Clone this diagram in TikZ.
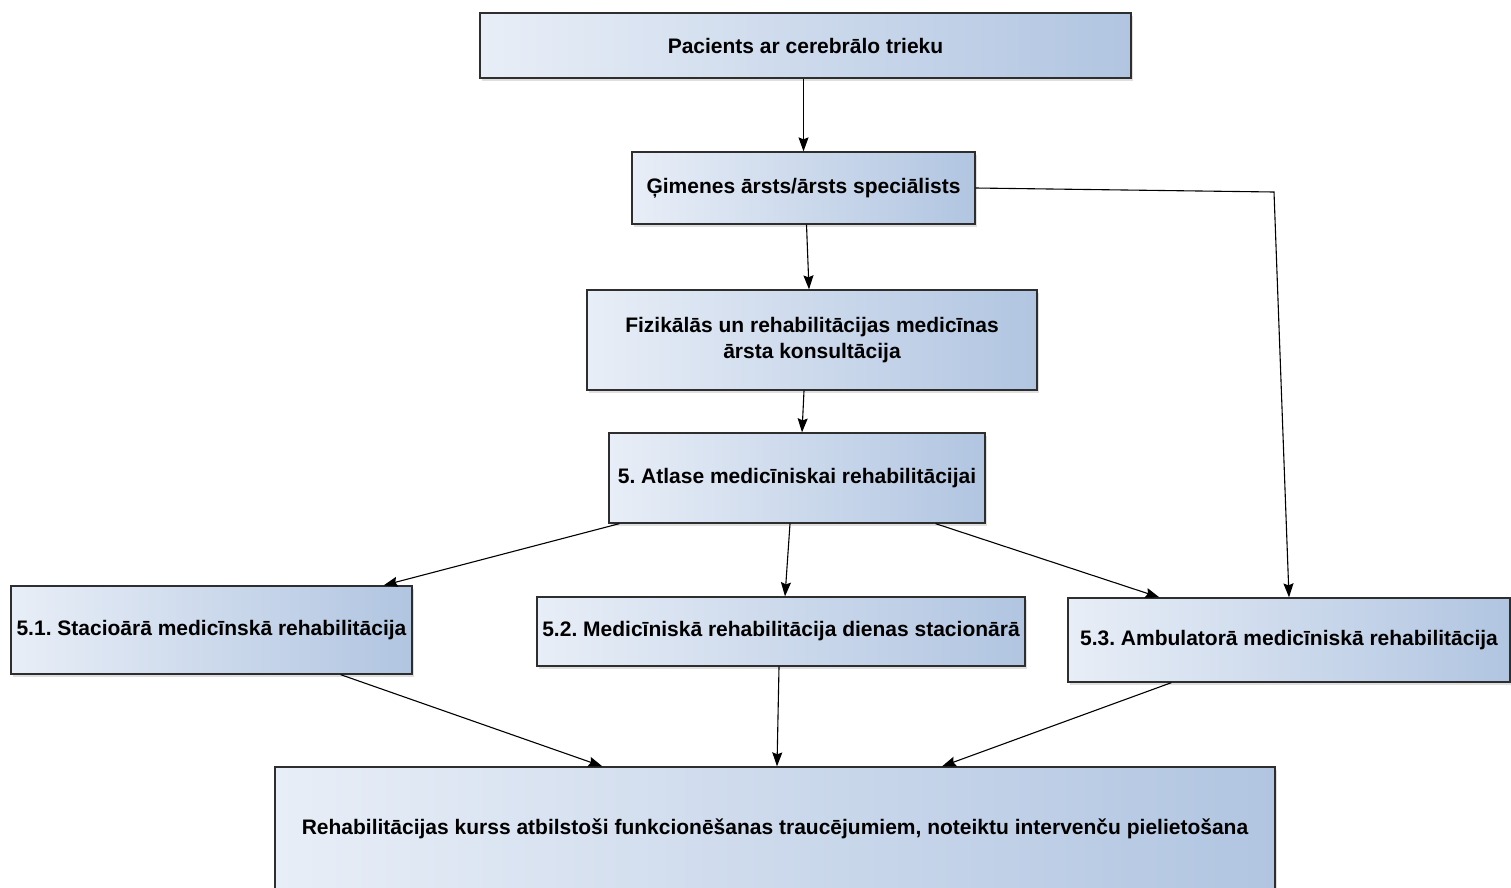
\documentclass[tikz,border=0pt]{standalone}
\usepackage{fontspec}
\setmainfont{Liberation Sans}
\usetikzlibrary{arrows.meta, positioning, calc, shadows}

\definecolor{boxleft}{HTML}{E8EEF7}
\definecolor{boxright}{HTML}{B1C5E1}
\definecolor{boxline}{HTML}{2E2E2E}

\frenchspacing

\begin{document}
\begin{tikzpicture}[
    x=1pt, y=-1pt,
    font=\fontsize{21}{26}\selectfont\bfseries,
    box/.style={draw=boxline, line width=1.3pt, left color=boxleft, right color=boxright, align=center, inner sep=0pt, drop shadow={opacity=0.25, shadow xshift=2pt, shadow yshift=-3pt}},
    arrow/.style={-{Stealth[length=14pt, width=10pt, inset=2pt]}, line width=1.1pt}
]

\useasboundingbox (0,0) rectangle (1511,887);
\fill[white] (0,0) rectangle (1511,887);
\clip (0,0) rectangle (1511,887);

% Patient and doctors
\node[box, minimum width=651pt, minimum height=65pt] (patient) at (805.5,45.5) {Pacients ar cerebrālo trieku};
\node[box, minimum width=343pt, minimum height=72pt] (gp) at (803.5,188) {Ģimenes ārsts/ārsts speciālists};
\node[box, minimum width=450pt, minimum height=100pt] (prm) at (812,340) {Fizikālās un rehabilitācijas medicīnas\\ārsta konsultācija};

% Selection
\node[box, minimum width=376pt, minimum height=90pt] (select) at (797,478) {5. Atlase medicīniskai rehabilitācijai};

% Rehabilitation types
\node[box, minimum width=401pt, minimum height=88pt] (inpat) at (211.5,630) {5.1. Stacioārā medicīnskā rehabilitācija};
\node[box, minimum width=488pt, minimum height=69pt] (daycare) at (781,631.5) {5.2. Medicīniskā rehabilitācija dienas stacionārā};
\node[box, minimum width=442pt, minimum height=84pt] (outpat) at (1289,640) {5.3. Ambulatorā medicīniskā rehabilitācija};

% Course
\node[box, minimum width=1000pt, minimum height=124pt] (course) at (775,829) {Rehabilitācijas kurss atbilstoši funkcionēšanas traucējumiem, noteiktu intervenču pielietošana};

\coordinate (bend) at (1274,192);

% Arrows
\draw[arrow] ($(patient.south)+(-2,0)$) -- (gp.north);
\draw[arrow] ($(gp.south)+(3,0)$) -- ($(prm.north)+(-3,0)$);
\draw[arrow] (gp.east) -- (bend) -- (outpat.north);
\draw[arrow] ($(prm.south)+(-8,0)$) -- ($(select.north)+(5,0)$);
\draw[arrow] ($(select.south west)+(11,0)$) -- ($(inpat.north east)+(-29,0)$);
\draw[arrow] ($(select.south)+(-7,0)$) -- ($(daycare.north)+(4,0)$);
\draw[arrow] ($(select.south east)+(-50,0)$) -- ($(outpat.north west)+(92,0)$);
\draw[arrow] ($(inpat.south east)+(-72,0)$) -- ($(course.north west)+(328,0)$);
\draw[arrow] ($(daycare.south)+(-2,0)$) -- ($(course.north)+(2,0)$);
\draw[arrow] ($(outpat.south west)+(104,0)$) -- ($(course.north)+(167,0)$);

\end{tikzpicture}
\end{document}
